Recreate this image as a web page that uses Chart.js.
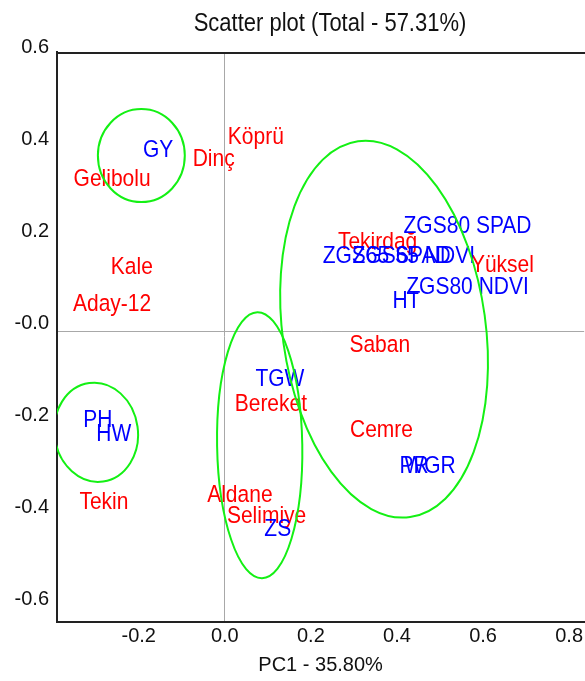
<!DOCTYPE html>
<html><head><meta charset="utf-8">
<script src="https://cdn.jsdelivr.net/npm/chart.js@4.4.1/dist/chart.umd.min.js"></script>
<style>html,body{margin:0;padding:0;background:#fff;overflow:hidden}</style>
</head><body>
<canvas id="c" width="585" height="681"></canvas>
<script>
// ---- data ----
const cultivarNames = ['Köprü','Dinç','Gelibolu','Kale','Aday-12','Tekirdağ','Yüksel','Saban','Bereket','Cemre','Tekin','Aldane','Selimiye'];
const cultivarPC1   = [0.072,-0.026,-0.262,-0.216,-0.262,0.355,0.645,0.360,0.107,0.364,-0.281,0.035,0.097];
const cultivarPC2   = [0.421,0.373,0.330,0.139,0.059,0.193,0.143,-0.030,-0.158,-0.215,-0.371,-0.356,-0.401];

const traitNames = ['GY','ZGS80 SPAD','ZGS65 SPAD','ZGS65 NDVI','ZGS80 NDVI','HT','TGW','PH','HW','ZS','PR','WGR'];
const traitPC1   = [-0.155,0.564,0.376,0.439,0.564,0.422,0.128,-0.295,-0.258,0.123,0.440,0.477];
const traitPC2   = [0.393,0.228,0.163,0.163,0.095,0.065,-0.104,-0.193,-0.223,-0.430,-0.293,-0.293];

const groupCenterPC1 = [-0.194,-0.299,0.081,0.370];
const groupCenterPC2 = [0.382,-0.219,-0.247,0.005];
const groupRadiusPC1 = [0.101,0.097,0.099,0.236];
const groupRadiusPC2 = [0.101,0.108,0.289,0.412];
const groupRotationDeg = [0,-8,-1,-7.9];

const xTickValues = [-0.2,0.0,0.2,0.4,0.6,0.8];
const xTickLabels = ['-0.2','0.0','0.2','0.4','0.6','0.8'];
const yTickValues = [-0.6,-0.4,-0.2,0.0,0.2,0.4,0.6];
const yTickLabels = ['-0.6','-0.4','-0.2','-0.0','0.2','0.4','0.6'];

const chartTitle = 'Scatter plot (Total - 57.31%)';
const xAxisTitle = 'PC1 - 35.80%';

const FONT = "'Liberation Sans', Arial, sans-serif";

function stretchedText(ctx, text, x, y, sy) {
  ctx.save();
  ctx.translate(x, y);
  ctx.scale(1, sy);
  ctx.fillText(text, 0, 0);
  ctx.restore();
}

const overlay = {
  id: 'overlay',
  beforeDatasetsDraw(chart) {
    const {ctx, chartArea: a} = chart;
    ctx.save();
    ctx.strokeStyle = '#222';
    ctx.lineWidth = 2;
    ctx.beginPath();
    ctx.moveTo(a.left, a.top + 1);
    ctx.lineTo(a.right + 2, a.top + 1);
    ctx.stroke();
    ctx.restore();
  },
  afterDatasetsDraw(chart) {
    const {ctx, chartArea: a, scales: {x, y}} = chart;
    ctx.save();
    ctx.beginPath();
    ctx.rect(a.left, a.top, a.right - a.left, a.bottom - a.top);
    ctx.clip();
    ctx.font = '21px ' + FONT;
    ctx.textAlign = 'center';
    ctx.textBaseline = 'middle';
    chart.data.datasets.forEach((ds, di) => {
      const meta = chart.getDatasetMeta(di);
      ctx.fillStyle = ds.labelColor;
      meta.data.forEach((pt, i) => {
        stretchedText(ctx, ds.names[i], pt.x, pt.y, 1.12);
      });
    });
    ctx.strokeStyle = 'rgb(20,240,20)';
    ctx.lineWidth = 2;
    for (let i = 0; i < groupCenterPC1.length; i++) {
      const cx = x.getPixelForValue(groupCenterPC1[i]);
      const cy = y.getPixelForValue(groupCenterPC2[i]);
      const rx = Math.abs(x.getPixelForValue(groupCenterPC1[i] + groupRadiusPC1[i]) - cx);
      const ry = Math.abs(y.getPixelForValue(groupCenterPC2[i] + groupRadiusPC2[i]) - cy);
      ctx.beginPath();
      ctx.ellipse(cx, cy, rx, ry, groupRotationDeg[i] * Math.PI / 180, 0, Math.PI * 2);
      ctx.stroke();
    }
    ctx.restore();
  },
  afterDraw(chart) {
    const {ctx} = chart;
    ctx.save();
    ctx.fillStyle = '#111';
    ctx.font = '22px ' + FONT;
    ctx.textAlign = 'center';
    ctx.textBaseline = 'middle';
    stretchedText(ctx, chartTitle, 330, 24, 1.15);
    ctx.restore();
  }
};

const zeroGrid = (c) => (c.tick && Math.abs(c.tick.value) < 1e-9) ? '#a8a8a8' : 'rgba(0,0,0,0)';

new Chart(document.getElementById('c'), {
  type: 'scatter',
  data: {
    datasets: [
      { label: 'Cultivars', names: cultivarNames, labelColor: '#ff0000',
        data: cultivarNames.map((n, i) => ({x: cultivarPC1[i], y: cultivarPC2[i]})),
        pointRadius: 0, pointHoverRadius: 0 },
      { label: 'Traits', names: traitNames, labelColor: '#0000ff',
        data: traitNames.map((n, i) => ({x: traitPC1[i], y: traitPC2[i]})),
        pointRadius: 0, pointHoverRadius: 0 }
    ]
  },
  options: {
    responsive: false, animation: false, devicePixelRatio: 1,
    events: [],
    layout: {padding: {top: 52, right: 0, bottom: 0, left: 0}},
    plugins: {legend: {display: false}, tooltip: {enabled: false}, title: {display: false}},
    scales: {
      x: {
        type: 'linear', min: -0.39, max: 0.835,
        afterBuildTicks: s => { s.ticks = xTickValues.map(v => ({value: v})); },
        afterFit: s => { s.height = 59; },
        ticks: {callback: v => xTickLabels[xTickValues.indexOf(v)], font: {family: FONT, size: 20},
                color: '#111', padding: 2, maxRotation: 0, autoSkip: false},
        grid: {color: zeroGrid, lineWidth: 1, drawTicks: false},
        border: {display: true, color: '#222', width: 2},
        title: {display: true, text: xAxisTitle, color: '#111', font: {family: FONT, size: 20}, padding: {top: 0, bottom: 4}}
      },
      y: {
        type: 'linear', min: -0.631, max: 0.607,
        afterBuildTicks: s => { s.ticks = yTickValues.map(v => ({value: v})); },
        afterFit: s => { s.width = 57; },
        ticks: {callback: v => yTickLabels[yTickValues.indexOf(v)], font: {family: FONT, size: 20},
                color: '#111', padding: 8, labelOffset: -8, autoSkip: false},
        grid: {color: zeroGrid, lineWidth: 1, drawTicks: false},
        border: {display: true, color: '#222', width: 2}
      }
    }
  },
  plugins: [overlay]
});
</script>
</body></html>
